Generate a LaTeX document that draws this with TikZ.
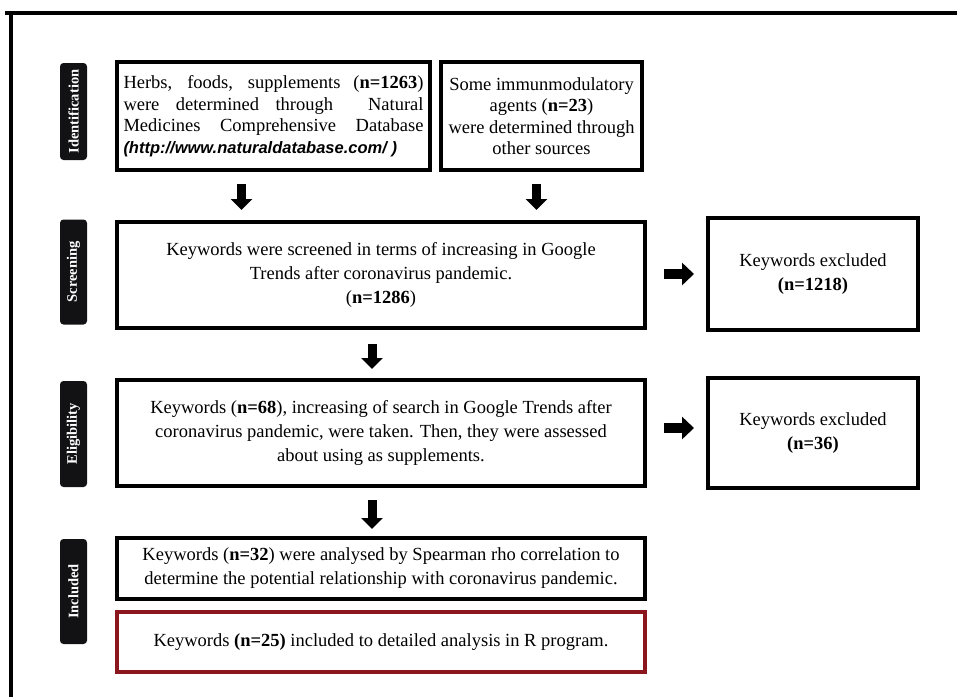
\documentclass[tikz,border=0pt]{standalone}
\usepackage{fontspec}
\setmainfont{Liberation Serif}
\newfontfamily\urlfont{Liberation Sans}
\usetikzlibrary{arrows.meta,calc}
\definecolor{boxred}{RGB}{140,22,30}
\definecolor{labelblack}{RGB}{18,18,20}
\tikzset{
  box/.style={draw=black, line width=4pt, fill=white, inner sep=0pt, align=center,
    font=\fontsize{18.5}{24}\selectfont},
  stagelabel/.style={fill=labelblack, rounded corners=3.5pt, rotate=90, text=white,
    font=\bfseries\fontsize{14.5}{16}\selectfont, inner sep=0pt, minimum height=27pt},
  downarrow/.style={line width=9pt, -{Triangle[length=11pt,width=21pt]}},
  rightarrow/.style={line width=10pt, -{Triangle[length=12pt,width=22pt]}},
  frameline/.style={line width=4pt}
}
\begin{document}
\begin{tikzpicture}[x=1pt,y=-1pt]
\useasboundingbox (0,0) rectangle (957,697);
% frame
\draw[frameline] (5,13) -- (957,13);
\draw[frameline] (11,11) -- (11,697);

% stage labels
\node[stagelabel, minimum width=97pt]  (lid)  at (73.5,111.5) {Identification};
\node[stagelabel, minimum width=105pt] (lsc)  at (73.5,272)   {Screening};
\node[stagelabel, minimum width=106pt] (lel)  at (73.5,434)   {Eligibility};
\node[stagelabel, minimum width=105pt] (lin)  at (73.5,591.5) {Included};

% identification boxes
\node[box, minimum width=313pt, minimum height=108pt, align=left,
      font=\fontsize{18.5}{21.5}\selectfont] (a) at (273.5,116) {%
  \makebox[300pt][s]{Herbs, foods, supplements (\textbf{n=1263})}\\
  \makebox[300pt][s]{were determined through \quad Natural}\\
  \makebox[300pt][s]{Medicines Comprehensive Database}\\
  {\urlfont\bfseries\itshape\fontsize{16.5}{21.5}\selectfont (http://www.naturaldatabase.com/ )}};
\node[box, minimum width=201pt, minimum height=108pt,
      font=\fontsize{18.5}{21.5}\selectfont] (b) at (541.5,116) {%
  Some immunmodulatory\\ agents (\textbf{n=23})\\ were determined through\\ other sources};

% screening
\node[box, minimum width=528pt, minimum height=106pt] (s) at (381,275) {%
  Keywords were screened in terms of increasing in Google\\
  Trends after coronavirus pandemic.\\ (\textbf{n=1286})};
\node[box, minimum width=210pt, minimum height=112pt] (x1) at (813,274) {%
  Keywords excluded\\ \textbf{(n=1218)}};

% eligibility
\node[box, minimum width=528pt, minimum height=106pt] (e) at (381,433) {%
  Keywords (\textbf{n=68}), increasing of search in Google Trends after\\
  coronavirus pandemic, were taken. Then, they were assessed\\
  about using as supplements.};
\node[box, minimum width=210pt, minimum height=110pt] (x2) at (813,433) {%
  Keywords excluded\\ \textbf{(n=36)}};

% included
\node[box, minimum width=528pt, minimum height=61pt] (i1) at (381,568.5) {%
  Keywords (\textbf{n=32}) were analysed by Spearman rho correlation to\\
  determine the potential relationship with coronavirus pandemic.};
\node[box, draw=boxred, minimum width=528pt, minimum height=60pt] (i2) at (381,642) {%
  Keywords \textbf{(n=25)} included to detailed analysis in R program.};

% arrows
\draw[downarrow] ($(a.south)+(-32,12)$) -- ($(a.south)+(-32,38)$);
\draw[downarrow] ($(b.south)+(-5,12)$) -- ($(b.south)+(-5,38)$);
\draw[downarrow] ($(s.south)+(-9,14)$) -- ($(s.south)+(-9,39)$);
\draw[downarrow] ($(e.south)+(-9,12)$) -- ($(e.south)+(-9,41)$);
\draw[rightarrow] ($(s.east)+(17,-1)$) -- ($(s.east)+(47,-1)$);
\draw[rightarrow] ($(e.east)+(17,-5)$) -- ($(e.east)+(47,-5)$);
\end{tikzpicture}
\end{document}
